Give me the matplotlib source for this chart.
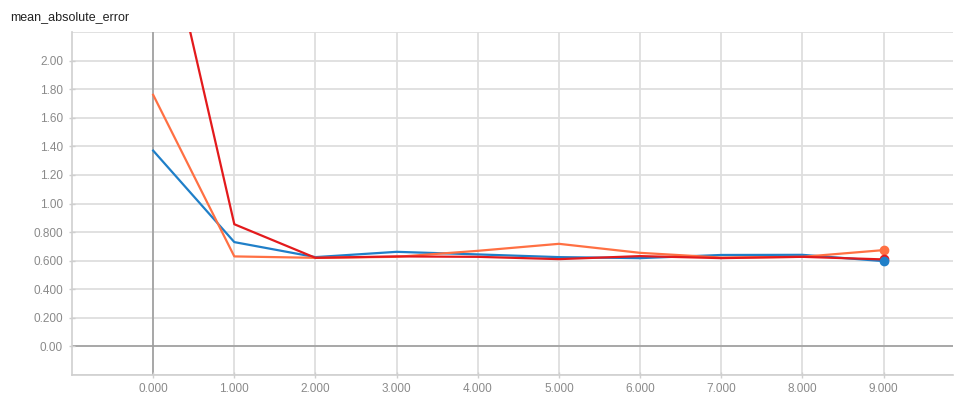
import numpy as np
import matplotlib
matplotlib.use("Agg")
import matplotlib.pyplot as plt
from matplotlib.ticker import FixedLocator

# data
steps = [0, 1, 2, 3, 4, 5, 6, 7, 8, 9]
blue = [1.37, 0.73, 0.625, 0.662, 0.644, 0.625, 0.618, 0.640, 0.641, 0.597]
orange = [1.76, 0.63, 0.620, 0.627, 0.669, 0.718, 0.655, 0.622, 0.627, 0.674]
red = [3.33, 0.855, 0.620, 0.630, 0.627, 0.611, 0.632, 0.618, 0.627, 0.609]

y_ticks = [0.0, 0.2, 0.4, 0.6, 0.8, 1.0, 1.2, 1.4, 1.6, 1.8, 2.0]
y_labels = ["0.00", "0.200", "0.400", "0.600", "0.800", "1.00",
            "1.20", "1.40", "1.60", "1.80", "2.00"]
x_labels = ["%.3f" % s for s in steps]

plt.rcParams["font.family"] = ["Liberation Sans", "DejaVu Sans"]

fig = plt.figure(figsize=(9.55, 3.94), dpi=100)
ax = fig.add_axes([0.0754, 0.048, 0.922, 0.871])

grid_c = "#dedede"
# grid lines
for y in np.arange(-0.2, 2.21, 0.2):
    ax.axhline(y, color=grid_c, lw=1.3, zorder=0)
for x in steps:
    ax.axvline(x, color=grid_c, lw=1.3, zorder=0)
ax.axhline(0, color="#9e9e9e", lw=1.2, zorder=1)
ax.axvline(0, color="#9e9e9e", lw=1.2, zorder=1)

series = [(blue, "#1f7fc8"), (orange, "#ff7043"), (red, "#e31a1c")]
for vals, col in series:
    ax.plot(steps, vals, color=col, lw=1.6, zorder=3)

# end-of-run dots
ax.plot(steps[-1], orange[-1], "o", color="#ff7043", ms=6, zorder=4)
ax.plot(steps[-1], red[-1], "o", color="#e31a1c", ms=6, zorder=4)
ax.plot(steps[-1], blue[-1], "o", color="#1f7fc8", ms=6, zorder=5)

ax.set_xlim(-1, 9.85)
ax.set_ylim(-0.2, 2.2)

ax.xaxis.set_major_locator(FixedLocator(steps))
ax.set_xticklabels(x_labels)
ax.yaxis.set_major_locator(FixedLocator(y_ticks))
ax.set_yticklabels(y_labels)

for s in ["top", "right"]:
    ax.spines[s].set_visible(False)
for s in ["left", "bottom"]:
    ax.spines[s].set_color("#cfcfcf")
    ax.spines[s].set_linewidth(1.2)

ax.tick_params(axis="both", colors="#cfcfcf", labelcolor="#8a8a8a",
               labelsize=8.5, direction="inout", length=5, width=1)
ax.tick_params(axis="x", pad=3)
ax.tick_params(axis="y", pad=4)

fig.text(0.011, 0.957, "mean_absolute_error", fontsize=9, color="#222222",
         ha="left", va="center")

fig.savefig("out.png", dpi=100, facecolor="white")
